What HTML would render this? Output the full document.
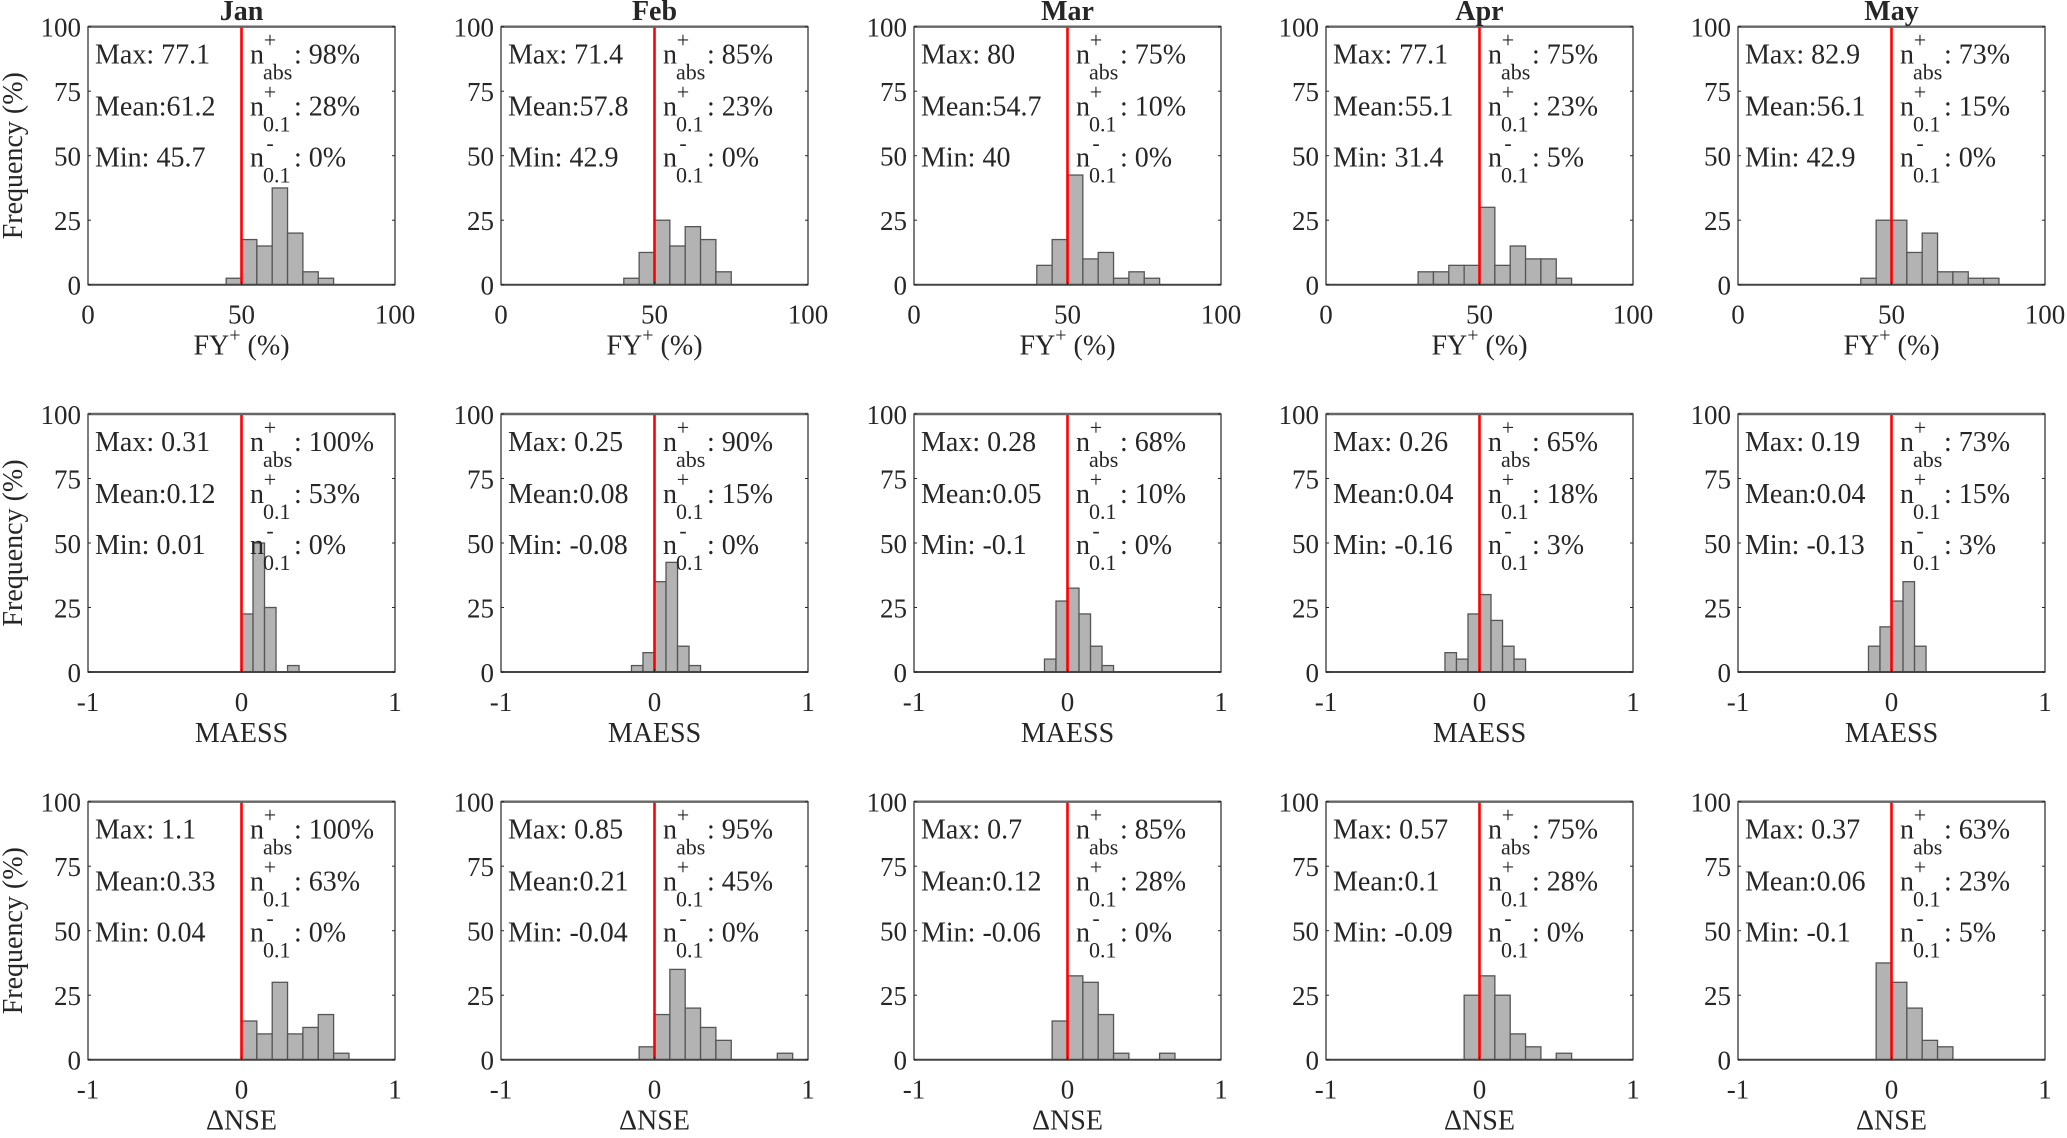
<!DOCTYPE html>
<html><head><meta charset="utf-8">
<style>
html,body{margin:0;padding:0;background:#fff;}
svg, svg text{font-family:"Liberation Serif","DejaVu Serif",serif;}
</style></head>
<body>
<svg id="fig" width="2067" height="1133" viewBox="0 0 2067 1133" xmlns="http://www.w3.org/2000/svg" font-family="Liberation Serif, serif"></svg>
<script>
// ---- data ----
const months = ["Jan","Feb","Mar","Apr","May"];
const rowLabels = ["FY+ (%)","MAESS","\u0394NSE"];
const fyStart = [45,40,40,30,40];
const fyCounts = [
 [2.5,17.5,15,37.5,20,5,2.5],
 [2.5,12.5,25,15,22.5,17.5,5],
 [7.5,17.5,42.5,10,12.5,2.5,5,2.5],
 [5,5,7.5,7.5,30,7.5,15,10,10,2.5],
 [2.5,25,25,12.5,20,5,5,2.5,2.5]
];
const maessStart = [0,-0.15,-0.15,-0.225,-0.15];
const maessCounts = [
 [22.5,50,25,0,2.5],
 [2.5,7.5,35,42.5,10,2.5],
 [5,27.5,32.5,22.5,10,2.5],
 [7.5,5,22.5,30,20,10,5],
 [10,17.5,27.5,35,10]
];
const nseStart = [0,-0.1,-0.1,-0.1,-0.1];
const nseCounts = [
 [15,10,30,10,12.5,17.5,2.5],
 [5,17.5,35,20,12.5,7.5,0,0,0,2.5],
 [15,32.5,30,17.5,2.5,0,0,2.5],
 [25,32.5,25,10,5,0,2.5],
 [37.5,30,20,7.5,5]
];
const fyMax = ["77.1","71.4","80","77.1","82.9"];
const fyMean = ["61.2","57.8","54.7","55.1","56.1"];
const fyMin = ["45.7","42.9","40","31.4","42.9"];
const fyNabs = ["98%","85%","75%","75%","73%"];
const fyNp = ["28%","23%","10%","23%","15%"];
const fyNm = ["0%","0%","0%","5%","0%"];
const maMax = ["0.31","0.25","0.28","0.26","0.19"];
const maMean = ["0.12","0.08","0.05","0.04","0.04"];
const maMin = ["0.01","-0.08","-0.1","-0.16","-0.13"];
const maNabs = ["100%","90%","68%","65%","73%"];
const maNp = ["53%","15%","10%","18%","15%"];
const maNm = ["0%","0%","0%","3%","3%"];
const nsMax = ["1.1","0.85","0.7","0.57","0.37"];
const nsMean = ["0.33","0.21","0.12","0.1","0.06"];
const nsMin = ["0.04","-0.04","-0.06","-0.09","-0.1"];
const nsNabs = ["100%","95%","85%","75%","63%"];
const nsNp = ["63%","45%","28%","28%","23%"];
const nsNm = ["0%","0%","0%","0%","5%"];
const yTicks = [0,25,50,75,100];
const fyTicks = [0,50,100];
const dTicks = [-1,0,1];

// ---- layout ----
const NS = "http://www.w3.org/2000/svg";
const svg = document.getElementById("fig");
const colLeft = [88,501,914,1326,1738];
const rowTop = [26.7,414,801.7];
const W = 307, H = 258;
const TXT = "#262626";
const FF = "Liberation Serif, DejaVu Serif, serif";

function mk(tag, attrs, parent){
  const e = document.createElementNS(NS, tag);
  for (const k in attrs) e.setAttribute(k, attrs[k]);
  (parent||svg).appendChild(e);
  return e;
}
function txt(s, x, y, size, parent, anchor, weight){
  const t = mk("text", {x:x, y:y, "font-size":size, fill:TXT, "font-family":FF, "text-anchor":anchor||"start"}, parent);
  if (weight) t.setAttribute("font-weight", weight);
  t.textContent = s;
  return t;
}

const rows = [
 {start:fyStart, counts:fyCounts, bw:5, xmin:0, xmax:100, ref:50, ticks:fyTicks,
  mx:fyMax, mn:fyMean, mi:fyMin, na:fyNabs, np:fyNp, nm:fyNm, name:"fy"},
 {start:maessStart, counts:maessCounts, bw:0.075, xmin:-1, xmax:1, ref:0, ticks:dTicks,
  mx:maMax, mn:maMean, mi:maMin, na:maNabs, np:maNp, nm:maNm, name:"maess"},
 {start:nseStart, counts:nseCounts, bw:0.1, xmin:-1, xmax:1, ref:0, ticks:dTicks,
  mx:nsMax, mn:nsMean, mi:nsMin, na:nsNabs, np:nsNp, nm:nsNm, name:"dnse"}
];

rows.forEach((R, r) => {
  months.forEach((m, c) => {
    const L = colLeft[c], T = rowTop[r];
    const xs = v => L + (v - R.xmin) / (R.xmax - R.xmin) * W;
    const ys = v => T + H - v / 100 * H;
    const g = mk("g", {});
    
    
    mk("rect", {x:L, y:T, width:W, height:H, fill:"#fff"}, g);
    R.counts[c].forEach((v, i) => {
      if (v <= 0) return;
      const x0 = xs(R.start[c] + i * R.bw), x1 = xs(R.start[c] + (i + 1) * R.bw);
      const b = mk("rect", {x:x0, y:ys(v), width:x1 - x0, height:ys(0) - ys(v), fill:"#b3b3b3", stroke:"#555", "stroke-width":1.3}, g);
      
      
    });
    const rl = mk("line", {x1:xs(R.ref), x2:xs(R.ref), y1:T, y2:T + H, stroke:"#ff0000", "stroke-width":2.6}, g);
    
    
    mk("rect", {x:L, y:T, width:W, height:H, fill:"none", stroke:"#262626", "stroke-width":1.2}, g);
    mk("line", {x1:L, x2:L + W, y1:T, y2:T, stroke:"#666", "stroke-width":2.4}, g);
    mk("line", {x1:L, x2:L + W, y1:T + H, y2:T + H, stroke:"#444", "stroke-width":2}, g);
    yTicks.forEach(v => {
      mk("line", {x1:L, x2:L + 3, y1:ys(v), y2:ys(v), stroke:"#262626", "stroke-width":1}, g);
      mk("line", {x1:L + W - 3, x2:L + W, y1:ys(v), y2:ys(v), stroke:"#262626", "stroke-width":1}, g);
      const t = txt(String(v), L - 7, ys(v) + 10, 27, g, "end");
      
      
    });
    R.ticks.forEach(v => {
      mk("line", {x1:xs(v), x2:xs(v), y1:T + H, y2:T + H - 3, stroke:"#262626", "stroke-width":1}, g);
      const t = txt(String(v), xs(v), T + H + 39, 27, g, "middle");
      
      
    });
    const xt = mk("text", {x:L + W / 2, y:T + H + 70, "font-size":28, fill:TXT, "font-family":FF, "text-anchor":"middle"}, g);
    
    
    if (r === 0) {
      xt.appendChild(document.createTextNode("FY"));
      const sp = document.createElementNS(NS, "tspan");
      sp.setAttribute("dy", -13); sp.setAttribute("font-size", 20); sp.textContent = "+";
      xt.appendChild(sp);
      const rest = document.createElementNS(NS, "tspan");
      rest.setAttribute("dy", 13); rest.textContent = " (%)";
      xt.appendChild(rest);
    } else {
      xt.textContent = rowLabels[r];
    }
    if (r === 0) {
      const tt = txt(m, L + W / 2, 20, 28, g, "middle", "bold");
      
      
    }
    const lx = L + 7, nx = L + 162;
    const base = [T + 37, T + 89, T + 140];
    const lbl = ["Max: " + R.mx[c], "Mean:" + R.mn[c], "Min: " + R.mi[c]];
    const sups = ["+", "+", "-"], subs = ["abs", "0.1", "0.1"];
    const vals = [R.na[c], R.np[c], R.nm[c]];
    for (let k = 0; k < 3; k++) {
      const s = txt(lbl[k], lx, base[k], 28, g);
      
      
      const n = txt("n", nx, base[k], 28, g);
      
      
      txt(sups[k], nx + 20, base[k] - 16, 22, g, "middle");
      txt(subs[k], nx + 13, base[k] + 16, 22, g);
      txt(": " + vals[k], nx + 44, base[k], 28, g);
    }
  });
});
rowTop.forEach((T, r) => {
  const cy = T + H / 2;
  const t = mk("text", {x:0, y:0, "font-size":28, fill:TXT, "font-family":FF, "text-anchor":"middle",
    transform:"translate(22," + cy + ") rotate(-90)"});
  
  
  t.textContent = "Frequency (%)";
});
</script>
</body></html>
